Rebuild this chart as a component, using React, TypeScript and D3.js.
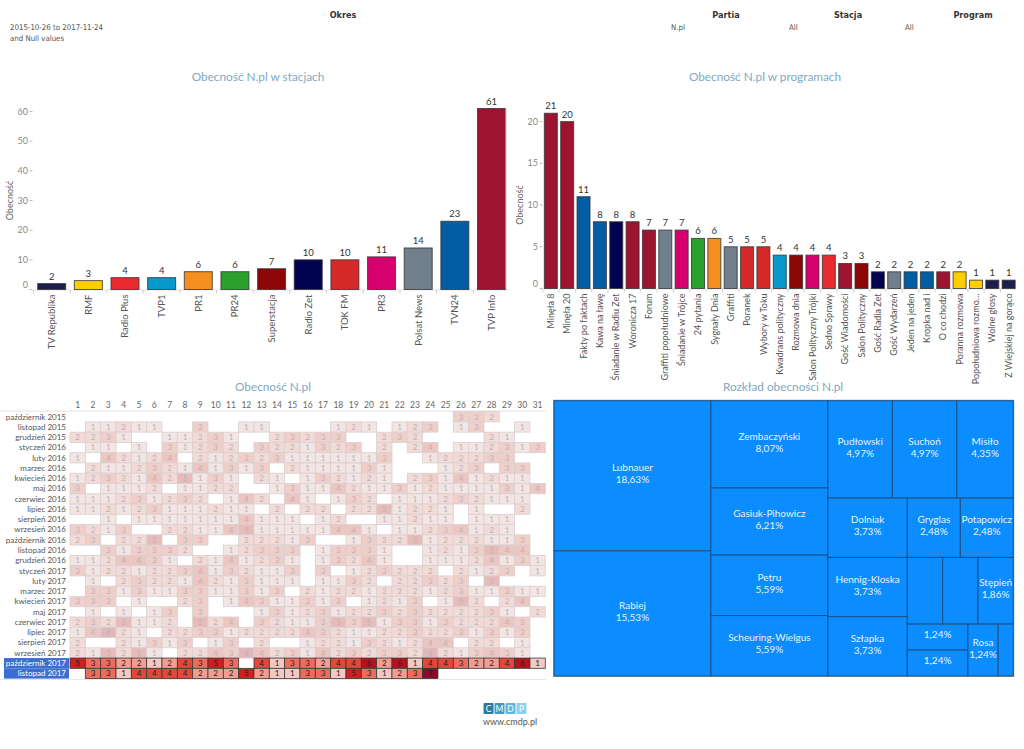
import React from "react";
import * as d3 from "d3";

// ---------- DATA ----------
const stations = ["TV Republika", "RMF", "Radio Plus", "TVP1", "PR1", "PR24", "Superstacja", "Radio Zet", "TOK FM", "PR3", "Polsat News", "TVN24", "TVP Info"];
const stationValues = [2, 3, 4, 4, 6, 6, 7, 10, 10, 11, 14, 23, 61];

const programs = ["Minęła 8", "Minęła 20", "Fakty po faktach", "Kawa na ławę", "Śniadanie w Radiu Zet", "Woronicza 17", "Forum", "Graffiti popołudniowe", "Śniadanie w Trójce", "24 pytania", "Sygnały Dnia", "Graffiti", "Poranek", "Wybory w Toku", "Kwadrans polityczny", "Rozmowa dnia", "Salon Polityczny Trójki", "Sedno Sprawy", "Gość Wiadomości", "Salon Polityczny", "Gość Radia Zet", "Gość Wydarzeń", "Jeden na jeden", "Kropka nad i", "O co chodzi", "Poranna rozmowa", "Popołudniowa rozmo…", "Wolne głosy", "Z Wiejskiej na gorąco"];
const programValues = [21, 20, 11, 8, 8, 8, 7, 7, 7, 6, 6, 5, 5, 5, 4, 4, 4, 4, 3, 3, 2, 2, 2, 2, 2, 2, 1, 1, 1];
const programStations = ["TVP Info", "TVP Info", "TVN24", "TVN24", "Radio Zet", "TVP Info", "TVP Info", "Polsat News", "PR3", "PR24", "PR1", "Polsat News", "TOK FM", "TOK FM", "TVP1", "Superstacja", "PR3", "Radio Plus", "TVP Info", "Superstacja", "Radio Zet", "Polsat News", "TVN24", "TVN24", "TVP Info", "RMF", "RMF", "TV Republika", "TV Republika"];

const people = ["Lubnauer", "Rabiej", "Zembaczyński", "Gasiuk-Pihowicz", "Petru", "Scheuring-Wielgus", "Pudłowski", "Suchoń", "Misiło", "Dolniak", "Hennig-Kloska", "Szłapka", "Gryglas", "Potapowicz", null, null, "Stępień", "", "", "Rosa", null];
const peopleValues = [30, 25, 13, 10, 9, 9, 8, 8, 7, 6, 6, 6, 4, 4, 3, 3, 3, 2, 2, 2, 1];

const months = ["październik 2015", "listopad 2015", "grudzień 2015", "styczeń 2016", "luty 2016", "marzec 2016", "kwiecień 2016", "maj 2016", "czerwiec 2016", "lipiec 2016", "sierpień 2016", "wrzesień 2016", "październik 2016", "listopad 2016", "grudzień 2016", "styczeń 2017", "luty 2017", "marzec 2017", "kwiecień 2017", "maj 2017", "czerwiec 2017", "lipiec 2017", "sierpień 2017", "wrzesień 2017", "październik 2017", "listopad 2017"];
const dayLabels = [1, 2, 3, 4, 5, 6, 7, 8, 9, 10, 11, 12, 13, 14, 15, 16, 17, 18, 19, 20, 21, 22, 23, 24, 25, 26, 27, 28, 29, 30, 31];
const selectedMonths = ["październik 2017", "listopad 2017"];
// 0 = no value
const heatRows = [
  [0,0,0,0,0,0,0,0,0,0, 0,0,0,0,0,0,0,0,0,0, 0,0,0,0,0,3,3,2,0,0,0],
  [0,1,1,2,1,1,0,0,3,0, 0,1,1,0,0,0,0,1,2,1, 0,1,2,3,0,1,3,0,0,1,0],
  [2,2,3,1,0,0,1,1,2,3, 1,0,0,2,3,2,3,3,0,0, 2,3,2,0,0,0,0,2,1,0,0],
  [0,1,1,0,1,0,3,1,2,3, 2,0,3,2,2,1,3,2,3,0, 2,0,2,4,0,1,1,2,3,1,3],
  [1,0,4,2,1,2,4,0,2,1, 2,3,2,3,1,1,1,1,1,1, 3,0,0,1,2,2,2,3,3,0,0],
  [0,2,1,1,2,3,2,1,4,1, 3,1,3,0,2,1,1,1,1,3, 1,0,0,0,1,2,3,0,3,3,0],
  [1,2,3,2,1,4,2,5,1,3, 1,0,2,1,0,1,3,2,1,2, 1,0,2,3,1,4,1,2,1,1,0],
  [3,0,1,1,1,2,0,1,1,2, 2,0,0,1,3,1,1,4,2,1, 1,3,1,2,1,1,1,1,3,1,4],
  [1,1,1,2,3,1,2,3,2,0, 1,4,2,0,4,1,0,1,3,2, 0,1,1,1,2,3,2,1,1,1,0],
  [1,1,2,1,2,3,1,1,1,2, 1,1,0,2,0,2,2,0,2,2, 5,1,2,2,1,0,1,0,0,2,0],
  [0,0,1,0,1,1,1,1,1,1, 1,4,1,1,1,0,1,2,0,0, 1,1,2,1,1,0,1,1,1,0,0],
  [3,2,1,3,0,0,2,2,1,1, 4,5,1,1,1,1,1,4,4,1, 0,1,1,2,3,4,1,2,1,0,0],
  [2,3,0,2,2,5,0,3,3,0, 0,2,2,2,1,3,0,0,1,3, 2,2,5,1,2,2,2,1,1,3,0],
  [0,0,3,1,3,3,3,2,0,0, 1,2,3,3,3,0,1,3,3,3, 1,0,0,1,2,1,3,5,4,4,0],
  [1,1,2,4,4,3,1,0,2,1, 4,1,2,3,1,0,1,3,2,4, 1,0,0,1,1,1,2,4,1,3,1],
  [3,1,2,2,1,2,2,3,4,1, 3,2,1,1,3,0,3,0,1,2, 3,2,2,2,0,2,1,2,3,0,1],
  [0,1,0,2,3,2,2,1,4,2, 1,3,1,1,1,0,1,1,3,2, 0,2,2,3,2,3,0,5,0,0,0],
  [0,3,3,1,3,1,1,3,3,1, 1,3,1,3,0,2,1,2,2,1, 2,2,2,1,2,3,1,1,3,1,1],
  [3,3,3,0,1,0,0,2,3,0, 1,4,3,1,1,3,1,3,0,1, 2,1,3,0,1,5,2,0,2,4,0],
  [0,1,0,1,0,1,3,0,3,0, 0,0,1,3,1,2,3,1,2,2, 3,2,3,2,2,2,2,3,1,0,2],
  [2,3,2,5,1,1,2,0,5,2, 4,0,3,2,1,1,3,5,3,5, 1,3,3,1,3,2,2,2,4,3,0],
  [1,4,6,2,1,0,2,2,3,3, 1,2,2,2,2,4,3,2,1,1, 2,2,3,2,2,3,1,3,1,3,0],
  [2,0,0,2,1,3,1,3,0,1, 3,0,2,0,0,1,2,2,1,3, 2,1,2,4,4,0,2,2,0,1,0],
  [2,1,5,2,5,1,0,2,2,4, 3,6,4,2,3,1,4,2,3,2, 3,3,2,6,2,1,3,4,3,1,0],
  [5,3,3,2,2,1,2,4,3,5, 3,0,4,1,3,3,2,4,4,6, 2,6,1,4,4,3,2,2,4,6,1],
  [0,3,3,1,4,4,4,4,2,2, 2,5,2,1,1,3,3,1,5,3, 1,2,3,7,0,0,0,0,0,0,0],
];

const leftTicks = [0, 10, 20, 30, 40, 50, 60];
const rightTicks = [0, 5, 10, 15, 20];

// ---------- STYLES ----------
const stationColor: Record<string, string> = {
  "TV Republika": "#1c1e4c",
  "RMF": "#ffcc00",
  "Radio Plus": "#ea2a2f",
  "TVP1": "#0799cc",
  "PR1": "#f58f1f",
  "PR24": "#2ca02c",
  "Superstacja": "#8c0606",
  "Radio Zet": "#02034e",
  "TOK FM": "#d52a29",
  "PR3": "#d6006f",
  "Polsat News": "#717f8c",
  "TVN24": "#035da2",
  "TVP Info": "#9c1430",
};
const FONT = "Lato,'Open Sans',sans-serif";
const TITLE = "#7fa9bf";
const TITLE_SIZE = 11.8;

const heatColor = d3
  .scaleLinear<string>()
  .domain([1, 2, 3, 4, 5, 6, 7])
  .range(["#f4c8c3", "#f39d92", "#ec6d5e", "#e2483a", "#ce2020", "#b5121f", "#8c0a2b"]);

function BarChart(props: {
  cats: string[]; vals: number[]; colors: string[]; ticks: number[]; domainMax: number;
  x0: number; x1: number; pIn: number; pOut: number; yTop: number; yBase: number;
  tickX: number; axisTitleX: number; title: string; titleX: number; labelSize: number;
}) {
  const { cats, vals, colors, ticks, domainMax, x0, x1, pIn, pOut, yTop, yBase, tickX, axisTitleX, title, titleX, labelSize } = props;
  const x = d3.scaleBand<string>().domain(cats).range([x0, x1]).paddingInner(pIn).paddingOuter(pOut);
  const y = d3.scaleLinear().domain([0, domainMax]).range([yBase, yTop]);
  const step = x.step();
  return (
    <g fontFamily={FONT}>
      <text x={titleX} y={81} textAnchor="middle" fontSize={TITLE_SIZE} fill={TITLE}>{title}</text>
      <text transform={`translate(${axisTitleX},${(yTop + yBase) / 2}) rotate(-90)`} textAnchor="middle" fontSize={9} fill="#666">Obecność</text>
      {ticks.map((t) => (
        <g key={t}>
          <text x={tickX} y={t === 0 ? y(t) - 5 : y(t)} dy="0.35em" textAnchor="end" fontSize={9} fill="#888">{t}</text>
          <line x1={tickX + 1.5} x2={tickX + 4.5} y1={y(t)} y2={y(t)} stroke="#bbb" strokeWidth={1} />
        </g>
      ))}
      <line x1={x0} x2={x1} y1={yBase + 0.5} y2={yBase + 0.5} stroke="#e3e3e3" />
      {cats.map((c, i) => (
        <line key={"tk" + i} x1={(x(c) as number) - (step - x.bandwidth()) / 2} x2={(x(c) as number) - (step - x.bandwidth()) / 2} y1={yBase + 0.5} y2={yBase + 4} stroke="#d0d0d0" />
      ))}
      {cats.map((c, i) => (
        <g key={c}>
          <rect x={x(c)} y={y(vals[i])} width={x.bandwidth()} height={yBase - y(vals[i])} fill={colors[i]} stroke="#333" strokeOpacity={0.8} strokeWidth={1} />
          <text x={(x(c) as number) + x.bandwidth() / 2} y={y(vals[i]) - 4} textAnchor="middle" fontSize={9.5} fill="#333">{vals[i]}</text>
          <text transform={`translate(${(x(c) as number) + x.bandwidth() / 2},${yBase + 5}) rotate(-90)`} dy="0.35em" textAnchor="end" fontSize={labelSize} fill="#555">{c}</text>
        </g>
      ))}
    </g>
  );
}

function Heatmap() {
  const x = d3.scaleBand<number>().domain(dayLabels).range([70, 545.3]);
  const y = d3.scaleBand<string>().domain(months).range([411.6, 678.6]);
  const fade = (c: string) => d3.interpolateRgb("#f1eeee", c)(0.25);
  return (
    <g fontFamily={FONT}>
      <text x={273} y={391} textAnchor="middle" fontSize={TITLE_SIZE} fill={TITLE}>Obecność N.pl</text>
      {dayLabels.map((d) => (
        <text key={d} x={(x(d) as number) + x.bandwidth() / 2} y={405} dy="0.35em" textAnchor="middle" fontSize={8.5} fill="#666">{d}</text>
      ))}
      <line x1={0} x2={546} y1={411} y2={411} stroke="#e2e2e2" />
      {months.map((m, r) => {
        const sel = selectedMonths.includes(m);
        const yy = y(m) as number;
        return (
          <g key={m}>
            {sel && <rect x={4} y={yy} width={65} height={y.bandwidth()} fill="#3b6ed0" />}
            <text x={66} y={yy + y.bandwidth() / 2} dy="0.35em" textAnchor="end" fontSize={8} fill={sel ? "#fff" : "#555"}>{m}</text>
            {heatRows[r].map((v, c) => {
              if (!v) return null;
              const d = dayLabels[c];
              const col = heatColor(v);
              return (
                <g key={c}>
                  <rect x={x(d)} y={yy} width={x.bandwidth()} height={y.bandwidth()} fill={sel ? col : fade(col)} stroke={sel ? "#3a3a3a" : "#d8d0d0"} strokeWidth={0.8} />
                  <text x={(x(d) as number) + x.bandwidth() / 2} y={yy + y.bandwidth() / 2} dy="0.36em" textAnchor="middle" fontSize={8} fill={sel ? "#222" : "#bdb3b3"}>{v}</text>
                </g>
              );
            })}
          </g>
        );
      })}
      <line x1={0} x2={546} y1={679.5} y2={679.5} stroke="#e6e6e6" />
    </g>
  );
}

function Treemap() {
  const total = d3.sum(peopleValues);
  const data = { children: people.map((n, i) => ({ name: n, v: peopleValues[i] })) } as any;
  const root = d3.hierarchy<any>(data).sum((d: any) => (d.children ? 0 : d.v));
  const ox = 554, oy = 400.7, w = 459.3, h = 275.3;
  d3.treemap<any>().size([w, h]).tile(d3.treemapSquarify)(root);
  const leaves = root.leaves() as any[];
  const pct = (v: number) => ((v / total) * 100).toFixed(2).replace(".", ",") + "%";
  return (
    <g fontFamily={FONT}>
      <text x={783} y={391} textAnchor="middle" fontSize={TITLE_SIZE} fill={TITLE}>Rozkład obecności N.pl</text>
      <rect x={ox - 0.5} y={oy - 0.5} width={w + 1} height={h + 1} fill="none" stroke="#a8a8a8" strokeWidth={1} />
      {leaves.map((l, i) => {
        const cx = ox + (l.x0 + l.x1) / 2;
        const cy = oy + (l.y0 + l.y1) / 2;
        const name = l.data.name;
        return (
          <g key={i}>
            <rect x={ox + l.x0} y={oy + l.y0} width={l.x1 - l.x0} height={l.y1 - l.y0} fill="#0b8cff" stroke="#1d4f86" strokeWidth={1} />
            {name && (
              <>
                <text x={cx} y={cy - 8} dy="0.35em" textAnchor="middle" fontSize={10} fill="#e8f2ff">{name}</text>
                <text x={cx} y={cy + 4} dy="0.35em" textAnchor="middle" fontSize={10} fill="#e8f2ff">{pct(l.data.v)}</text>
              </>
            )}
            {name === "" && (
              <text x={cx} y={cy - 3} dy="0.35em" textAnchor="middle" fontSize={10} fill="#e8f2ff">{pct(l.data.v)}</text>
            )}
          </g>
        );
      })}
    </g>
  );
}

function Header() {
  const hf = "'Liberation Sans Narrow','DejaVu Sans Condensed','Open Sans',sans-serif";
  return (
    <g fontFamily={hf}>
      <text x={343} y={18} textAnchor="middle" fontSize={9} fontWeight="bold" fill="#333">Okres</text>
      <text x={10} y={30} fontSize={7.8} fill="#555">2015-10-26 to 2017-11-24</text>
      <text x={10} y={41} fontSize={7.8} fill="#555">and Null values</text>
      <text x={726} y={18} textAnchor="middle" fontSize={9} fontWeight="bold" fill="#333">Partia</text>
      <text x={671} y={30} fontSize={7.8} fill="#555">N.pl</text>
      <text x={848} y={18} textAnchor="middle" fontSize={9} fontWeight="bold" fill="#333">Stacja</text>
      <text x={789} y={30} fontSize={7.8} fill="#555">All</text>
      <text x={973} y={18} textAnchor="middle" fontSize={9} fontWeight="bold" fill="#333">Program</text>
      <text x={905} y={30} fontSize={7.8} fill="#555">All</text>
    </g>
  );
}

function Footer() {
  const letters = ["C", "M", "D", "P"];
  const cols = ["#2b7c9c", "#3f9bc0", "#5cb8de", "#8dd1ee"];
  return (
    <g fontFamily={FONT}>
      {letters.map((l, i) => (
        <g key={l}>
          <rect x={483.5 + i * 11} y={703} width={10} height={11} fill={cols[i]} rx={1} />
          <text x={488.5 + i * 11} y={708.7} dy="0.35em" textAnchor="middle" fontSize={8.5} fill="#fff">{l}</text>
        </g>
      ))}
      <text x={510} y={725} textAnchor="middle" fontSize={9} fill="#555">www.cmdp.pl</text>
    </g>
  );
}

export default function App() {
  return (
    <div>
      <style>{"body{margin:0;background:#fff}"}</style>
      <svg width={1024} height={749} style={{ display: "block" }}>
        <rect width={1024} height={749} fill="#fff" />
        <Header />
        <BarChart
          cats={stations} vals={stationValues} colors={stations.map((s) => stationColor[s])}
          ticks={leftTicks} domainMax={60} x0={33.3} x1={509.9} pIn={0.236} pOut={0.12}
          yTop={111.5} yBase={289.5} tickX={28} axisTitleX={13} title="Obecność N.pl w stacjach" titleX={258} labelSize={9.5}
        />
        <line x1={506} x2={506} y1={108} y2={289} stroke="#c8c8c8" />
        <BarChart
          cats={programs} vals={programValues} colors={programStations.map((s) => stationColor[s])}
          ticks={rightTicks} domainMax={20} x0={542.7} x1={1016.8} pIn={0.205} pOut={0.1}
          yTop={121.6} yBase={288.5} tickX={538} axisTitleX={523} title="Obecność N.pl w programach" titleX={765} labelSize={9}
        />
        <Heatmap />
        <Treemap />
        <Footer />
      </svg>
    </div>
  );
}
